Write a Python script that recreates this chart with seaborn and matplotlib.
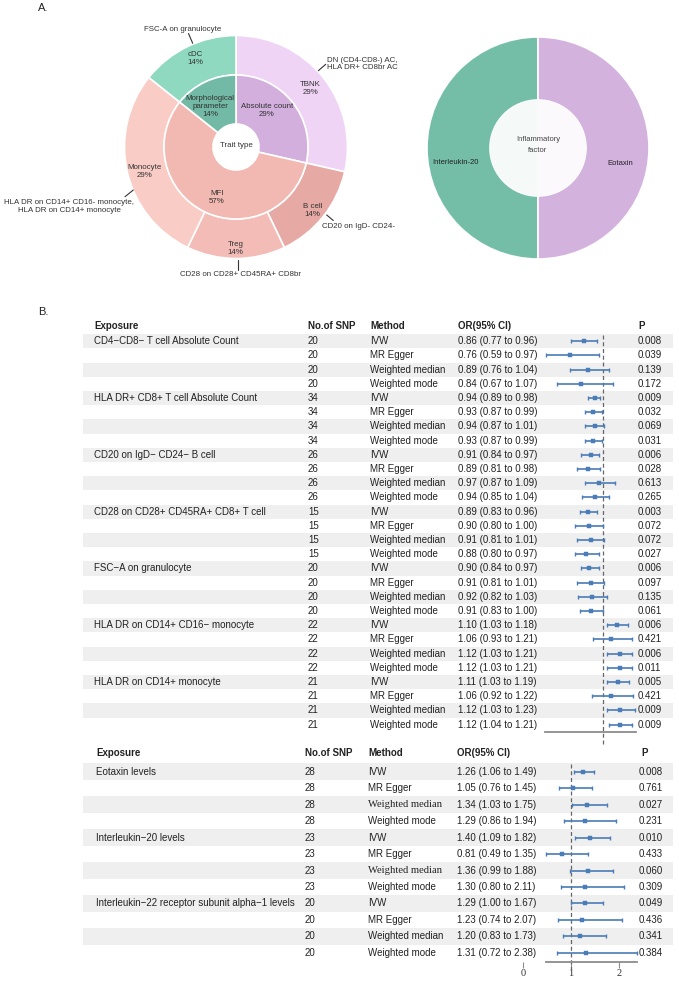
import numpy as np
import pandas as pd
import matplotlib
matplotlib.use('Agg')
import matplotlib.pyplot as plt
import seaborn as sns

# ---- A. donut data ----
cell_types = ['TBNK', 'B cell', 'Treg', 'Monocyte', 'cDC']
cell_counts = [2, 1, 1, 2, 1]
trait_types = ['Absolute count', 'MFI', 'Morphological\nparameter']
trait_counts = [2, 4, 1]
inflam_factors = ['Interleukin-20', 'Eotaxin']
inflam_counts = [1, 1]

# ---- B. forest data ----
methods = ['IVW', 'MR Egger', 'Weighted median', 'Weighted mode']

exposures_top = ['CD4\u2212CD8\u2212 T cell Absolute Count',
                 'HLA DR+ CD8+ T cell Absolute Count',
                 'CD20 on IgD\u2212 CD24\u2212 B cell',
                 'CD28 on CD28+ CD45RA+ CD8+ T cell',
                 'FSC\u2212A on granulocyte',
                 'HLA DR on CD14+ CD16\u2212 monocyte',
                 'HLA DR on CD14+ monocyte']
nsnp_top = [20, 34, 26, 15, 20, 22, 21]
or_top = [0.86, 0.76, 0.89, 0.84, 0.94, 0.93, 0.94, 0.93, 0.91, 0.89, 0.97, 0.94,
          0.89, 0.90, 0.91, 0.88, 0.90, 0.91, 0.92, 0.91, 1.10, 1.06, 1.12, 1.12,
          1.11, 1.06, 1.12, 1.12]
lo_top = [0.77, 0.59, 0.76, 0.67, 0.89, 0.87, 0.87, 0.87, 0.84, 0.81, 0.87, 0.85,
          0.83, 0.80, 0.81, 0.80, 0.84, 0.81, 0.82, 0.83, 1.03, 0.93, 1.03, 1.03,
          1.03, 0.92, 1.03, 1.04]
hi_top = [0.96, 0.97, 1.04, 1.07, 0.98, 0.99, 1.01, 0.99, 0.97, 0.98, 1.09, 1.04,
          0.96, 1.00, 1.01, 0.97, 0.97, 1.01, 1.03, 1.00, 1.18, 1.21, 1.21, 1.21,
          1.19, 1.22, 1.23, 1.21]
p_top = [0.008, 0.039, 0.139, 0.172, 0.009, 0.032, 0.069, 0.031, 0.006, 0.028, 0.613, 0.265,
         0.003, 0.072, 0.072, 0.027, 0.006, 0.097, 0.135, 0.061, 0.006, 0.421, 0.006, 0.011,
         0.005, 0.421, 0.009, 0.009]

exposures_bot = ['Eotaxin levels', 'Interleukin\u221220 levels',
                 'Interleukin\u221222 receptor subunit alpha\u22121 levels']
nsnp_bot = [28, 23, 20]
or_bot = [1.26, 1.05, 1.34, 1.29, 1.40, 0.81, 1.36, 1.30, 1.29, 1.23, 1.20, 1.31]
lo_bot = [1.06, 0.76, 1.03, 0.86, 1.09, 0.49, 0.99, 0.80, 1.00, 0.74, 0.83, 0.72]
hi_bot = [1.49, 1.45, 1.75, 1.94, 1.82, 1.35, 1.88, 2.11, 1.67, 2.07, 1.73, 2.38]
p_bot = [0.008, 0.761, 0.027, 0.231, 0.010, 0.433, 0.060, 0.309, 0.049, 0.436, 0.341, 0.384]
bot_ticks = [0, 1, 2]

cell_colors = ['#F0D4F6', '#E6A9A3', '#F3BCB6', '#F9CCC6', '#8FD9C1']
trait_colors = ['#D2AFDD', '#F2B9B2', '#72BAA5']
inflam_colors = ['#74BEA8', '#D4B2DE']
ci_color = '#4A7CB8'

sns.set_theme(style='white')
plt.rcParams['font.family'] = ['Liberation Sans', 'DejaVu Sans']

W, H = 679, 983
fig = plt.figure(figsize=(W / 100, H / 100), dpi=100)


def px_axes(x0, y0, x1, y1):
    return fig.add_axes([x0 / W, 1 - y1 / H, (x1 - x0) / W, (y1 - y0) / H])


def pct(counts):
    tot = sum(counts)
    return ['%d%%' % round(100 * c / tot) for c in counts]


# ---------- donuts ----------
R1, cx1, cy1 = 111.5, 236, 147
ax1 = px_axes(cx1 - R1, cy1 - R1, cx1 + R1, cy1 + R1)
ax1.pie(cell_counts, radius=1, startangle=90, counterclock=False, colors=cell_colors,
        wedgeprops=dict(width=1 - 72 / R1, edgecolor='white', linewidth=1.2))
ax1.pie(trait_counts, radius=72 / R1, startangle=90, counterclock=False, colors=trait_colors,
        wedgeprops=dict(width=(72 - 23) / R1, edgecolor='white', linewidth=1.2))
ax1.set_xlim(-1, 1)
ax1.set_ylim(-1, 1)
ax1.set_aspect('equal')
ax1.axis('off')

R2, cx2, cy2 = 111, 538, 148
ax2 = px_axes(cx2 - R2, cy2 - R2, cx2 + R2, cy2 + R2)
ax2.pie(inflam_counts, radius=1, startangle=90, counterclock=True, colors=inflam_colors,
        wedgeprops=dict(width=1 - 48 / R2, edgecolor='white', linewidth=1.2))
ax2.pie(inflam_counts, radius=48 / R2, startangle=90, counterclock=True,
        colors=['#F5FAF8', '#FCF9FD'], wedgeprops=dict(linewidth=0))
ax2.set_xlim(-1, 1)
ax2.set_ylim(-1, 1)
ax2.set_aspect('equal')
ax2.axis('off')

# overlay in pixel coordinates for labels
ov = fig.add_axes([0, 0, 1, 1], zorder=10)
ov.set_xlim(0, W)
ov.set_ylim(H, 0)
ov.axis('off')
ov.patch.set_alpha(0)

lab = dict(fontsize=5.7, color='#333333', ha='center', va='center')
cell_pos = [(310.7, 89), (312.3, 210), (235.7, 249), (145, 171.7), (195, 59)]
for name, p, (x, y) in zip(cell_types, pct(cell_counts), cell_pos):
    ov.text(x, y, f'{name}\n{p}', **lab)
trait_pos = [(266.7, 111), (216.7, 197.3), (210, 106)]
for name, p, (x, y) in zip(trait_types, pct(trait_counts), trait_pos):
    ov.text(x, y, f'{name}\n{p}', **lab)
ov.text(236.7, 145.7, 'Trait type', **lab)

notes = [
    ('FSC-A on granulocyte', (182.3, 29.3), 'center', (188.5, 33.5), (192.7, 43.3)),
    ('DN (CD4-CD8-) AC,\nHLA DR+ CD8br AC', (326.7, 63.7), 'left', (318.3, 70.7), (325.7, 64.3)),
    ('HLA DR on CD14+ CD16- monocyte,\nHLA DR on CD14+ monocyte', (69.5, 206.5), 'center',
     (125, 196.7), (133.3, 190)),
    ('CD20 on IgD- CD24-', (322, 227), 'left', (326.7, 215), (333.3, 220.5)),
    ('CD28 on CD28+ CD45RA+ CD8br', (240, 274), 'center', (238, 260), (238, 269.5)),
]
for txt, (x, y), ha, (lx0, ly0), (lx1, ly1) in notes:
    ov.text(x, y, txt, fontsize=5.7, color='#333333', ha=ha, va='center', linespacing=1.0)
    ov.plot([lx0, lx1], [ly0, ly1], color='#333333', lw=0.8)

ov.text(455.7, 162.7, inflam_factors[0], fontsize=5.5, color='#222222', ha='center', va='center')
ov.text(620.7, 163.3, inflam_factors[1], fontsize=5.5, color='#222222', ha='center', va='center')
ov.text(538, 145, 'Inflammatory\nfactor', fontsize=5.5, color='#444444', ha='center',
        va='center', linespacing=1.8)

ov.text(38, 8, 'A.', fontsize=8, color='#222222', ha='left', va='center')
ov.text(38, 312, 'B.', fontsize=8, color='#222222', ha='left', va='center')


# ---------- forest tables ----------
def forest(exposures, nsnp, ors, los, his, pvals, row0, step, axis_y, one_px, ppu,
           xlim, bounds, cols, head_row, dash_end_px, ticks=None, serif_rows=()):
    n = len(ors)
    top_px = row0 - 0.5 * step
    ybot = (axis_y - row0) / step
    rows = np.arange(n)

    axt = px_axes(0, top_px, W, axis_y)
    axt.set_xlim(0, W)
    axt.set_ylim(ybot, -0.5)
    axt.axis('off')
    for i in rows[::2]:
        axt.axhspan(i - 0.5, i + 0.5, xmin=83 / W, xmax=673 / W, color='#EFEFEF', lw=0)

    hx = cols
    head = dict(fontsize=7, fontweight='bold', color='#222222', va='center', ha='left')
    axt.text(hx['exp'], head_row, 'Exposure', **head)
    axt.text(hx['snp'], head_row, 'No.of SNP', **head)
    axt.text(hx['met'], head_row, 'Method', **head)
    axt.text(hx['or'], head_row, 'OR(95% CI)', **head)
    axt.text(hx['phead'], head_row, 'P', **head)

    body = dict(fontsize=7, color='#222222', va='center', ha='left')
    for i in rows:
        g = i // 4
        if i % 4 == 0:
            axt.text(hx['exp'], i, exposures[g], **body)
        axt.text(hx['snp'], i, str(nsnp[g]), **body)
        if i in serif_rows:
            axt.text(hx['met'], i, methods[i % 4], family='Liberation Serif',
                     fontsize=7.6, color='#222222', va='center', ha='left')
        else:
            axt.text(hx['met'], i, methods[i % 4], **body)
        axt.text(hx['or'], i, f'{ors[i]:.2f} ({los[i]:.2f} to {his[i]:.2f})', **body)
        axt.text(hx['p'], i, f'{pvals[i]:.3f}', **body)

    x0 = one_px + (xlim[0] - 1) * ppu
    x1 = one_px + (xlim[1] - 1) * ppu
    axf = px_axes(x0, top_px, x1, axis_y)
    axf.patch.set_alpha(0)
    axf.set_xlim(*xlim)
    axf.set_ylim(ybot, -0.5)
    df = pd.DataFrame({'or': ors, 'lo': los, 'hi': his, 'row': rows})
    axf.errorbar(df['or'], df['row'], xerr=[df['or'] - df['lo'], df['hi'] - df['or']],
                 fmt='none', ecolor=ci_color, elinewidth=1.2, capsize=1.7, capthick=1.0,
                 clip_on=False)
    sns.scatterplot(data=df, x='or', y='row', marker='s', s=5, color=ci_color,
                    edgecolor=ci_color, linewidth=0.3, ax=axf, legend=False, clip_on=False,
                    zorder=3)
    axf.plot([1, 1], [-0.45, (dash_end_px - row0) / step], ls=(0, (3.2, 2.2)),
             color='#666666', lw=0.9, clip_on=False, zorder=1)
    for s in ['top', 'left', 'right']:
        axf.spines[s].set_visible(False)
    axf.spines['bottom'].set_color('#8C8C8C')
    axf.spines['bottom'].set_linewidth(1.3)
    axf.spines['bottom'].set_bounds(*bounds)
    axf.set_yticks([])
    axf.set_xlabel('')
    axf.set_ylabel('')
    if ticks is not None:
        axf.set_xticks(ticks)
        axf.set_xticklabels([str(t) for t in ticks], family='Liberation Serif',
                            fontsize=7.5, color='#333333')
        axf.tick_params(axis='x', bottom=True, length=4.5, width=0.8, color='#8C8C8C', pad=1)
    else:
        axf.set_xticks([])


forest(exposures_top, nsnp_top, or_top, lo_top, hi_top, p_top,
       row0=341.2, step=14.2, axis_y=732, one_px=603, ppu=138,
       xlim=(0.58, 1.24), bounds=(0.58, 1.24),
       cols=dict(exp=94, snp=308, met=370, **{'or': 457.7}, p=638, phead=638),
       head_row=(326 - 341.2) / 14.2, dash_end_px=744)

forest(exposures_bot, nsnp_bot, or_bot, lo_bot, hi_bot, p_bot,
       row0=771.7, step=16.47, axis_y=961.7, one_px=570.7, ppu=48,
       xlim=(-0.06, 2.45), bounds=(0.48, 2.38),
       cols=dict(exp=96, snp=305, met=368, **{'or': 456.7}, p=639, phead=641),
       head_row=(753 - 771.7) / 16.47, dash_end_px=970, ticks=bot_ticks,
       serif_rows=(2, 6))

fig.savefig('out.png', dpi=100)
